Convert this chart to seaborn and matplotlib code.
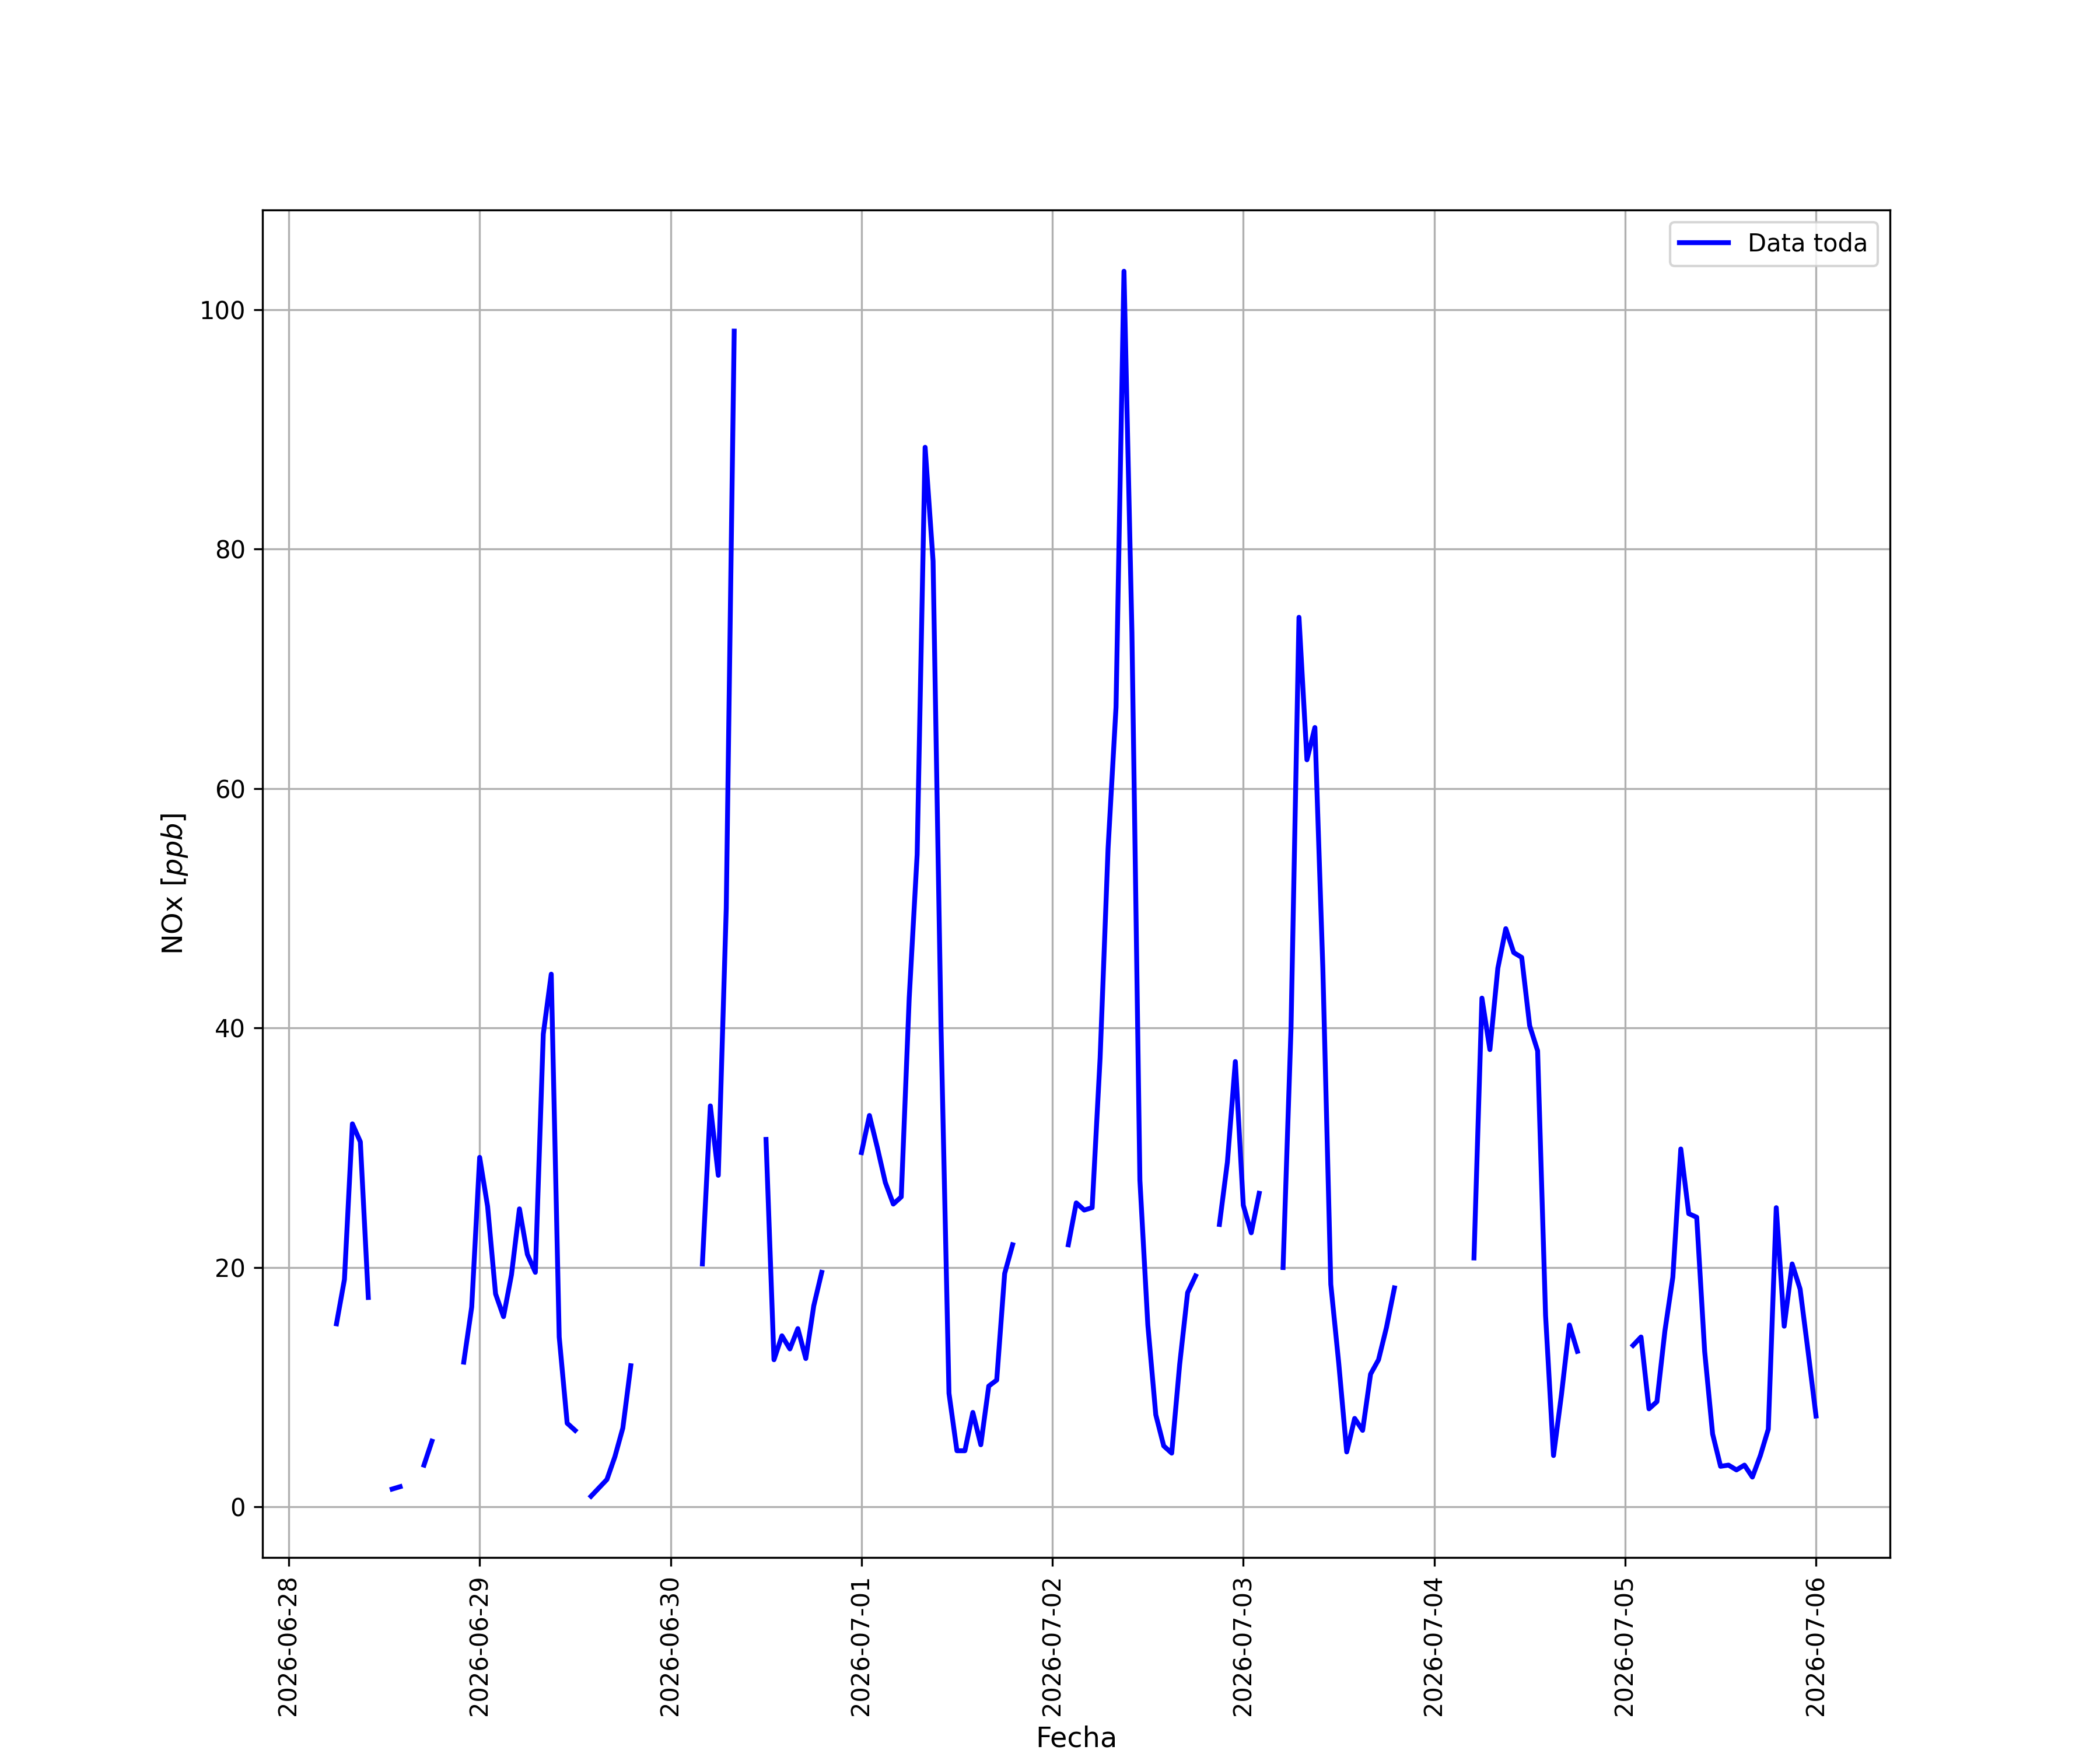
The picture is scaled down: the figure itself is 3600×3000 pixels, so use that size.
import matplotlib
matplotlib.use("Agg")
import matplotlib.pyplot as plt
import matplotlib.dates as mdates
import seaborn as sns
import numpy as np
import pandas as pd

# hourly NOx readings, split into the runs without missing data
seg_starts = [
    "2026-06-28 06:00", "2026-06-28 13:00", "2026-06-28 17:00", "2026-06-28 22:00",
    "2026-06-29 14:00", "2026-06-30 04:00", "2026-06-30 12:00", "2026-07-01 00:00",
    "2026-07-02 02:00", "2026-07-02 21:00", "2026-07-03 05:00", "2026-07-04 05:00",
    "2026-07-05 01:00",
]
seg_values = [
    [15.3, 19.0, 32.0, 30.5, 17.5],
    [1.5, 1.7],
    [3.5, 5.5],
    [12.1, 16.7, 29.2, 25.1, 17.8, 15.9, 19.4, 24.9, 21.1, 19.6, 39.5, 44.5, 14.2, 7.0, 6.4],
    [0.9, 1.6, 2.3, 4.2, 6.6, 11.8],
    [20.3, 33.5, 27.7, 50.0, 98.2],
    [30.7, 12.3, 14.3, 13.2, 14.9, 12.4, 16.8, 19.6],
    [29.6, 32.7, 30.0, 27.1, 25.3, 25.9, 42.5, 54.5, 88.5, 79.0, 40.0, 9.5, 4.7, 4.7,
     7.9, 5.2, 10.1, 10.6, 19.5, 21.9],
    [21.9, 25.4, 24.8, 25.0, 37.5, 55.0, 66.8, 103.2, 73.0, 27.3, 15.2, 7.7, 5.1, 4.5,
     11.9, 17.9, 19.3],
    [23.6, 28.8, 37.2, 25.2, 22.9, 26.2],
    [20.0, 40.0, 74.3, 62.4, 65.1, 45.0, 18.6, 12.0, 4.6, 7.4, 6.4, 11.1, 12.3, 15.0, 18.3],
    [20.8, 42.5, 38.2, 45.0, 48.3, 46.3, 45.9, 40.2, 38.1, 16.0, 4.3, 9.4, 15.2, 13.0],
    [13.5, 14.2, 8.2, 8.8, 14.7, 19.2, 29.9, 24.5, 24.2, 13.0, 6.1, 3.4, 3.5, 3.1, 3.5,
     2.5, 4.3, 6.5, 25.0, 15.1, 20.3, 18.2, 13.0, 7.6],
]

frames = []
for i, (start, vals) in enumerate(zip(seg_starts, seg_values)):
    frames.append(pd.DataFrame({
        "Fecha": pd.date_range(start, periods=len(vals), freq="h"),
        "NOx": vals,
        "tramo": i,
    }))
df = pd.concat(frames, ignore_index=True)

fig, ax = plt.subplots(figsize=(12, 10))
sns.lineplot(data=df, x="Fecha", y="NOx", units="tramo", estimator=None,
             color="blue", linewidth=2, label="Data toda", ax=ax)

handles, labels = ax.get_legend_handles_labels()
ax.legend(handles[:1], labels[:1], loc="upper right")

ax.xaxis.set_major_locator(mdates.DayLocator())
ax.xaxis.set_major_formatter(mdates.DateFormatter("%Y-%m-%d"))
plt.setp(ax.get_xticklabels(), rotation=90)
ax.grid(True)
ax.set_xlabel("Fecha", fontsize=11.5)
ax.set_ylabel("NOx [$ppb$]", fontsize=11.5)

fig.savefig("out.png", dpi=300)
